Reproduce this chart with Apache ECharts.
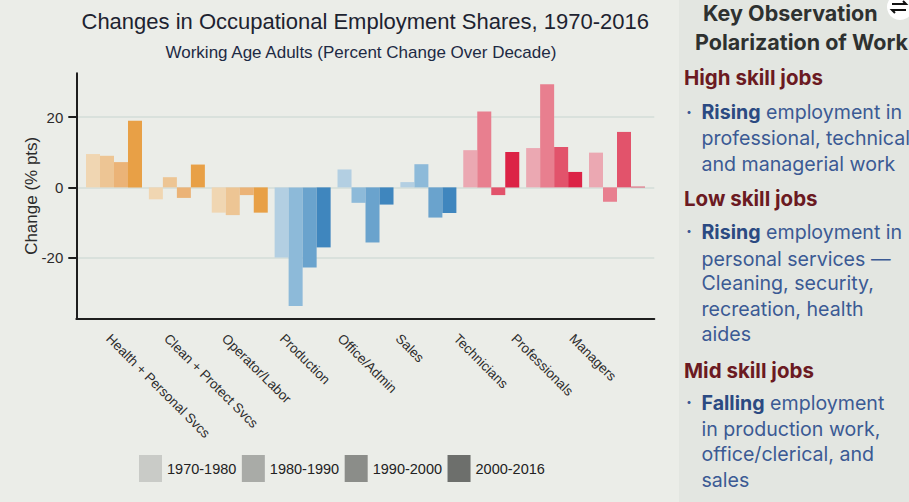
<!DOCTYPE html>
<html>
<head>
<meta charset="utf-8">
<script src="https://cdn.jsdelivr.net/npm/echarts@6/dist/echarts.min.js"></script>
<style>
html,body{margin:0;padding:0;background:#ebede8;}
#chart{width:909px;height:502px;}
</style>
</head>
<body>
<div id="chart"></div>
<script>
// ---- data ----
const categories = ['Health + Personal Svcs', 'Clean + Protect Svcs', 'Operator/Labor', 'Production', 'Office/Admin', 'Sales', 'Technicians', 'Professionals', 'Managers'];
const periods = ['1970-1980', '1980-1990', '1990-2000', '2000-2016'];
const change1970_1980 = [9.5, -3.4, -7.2, -20.0, 5.1, 1.5, 10.6, 11.2, 9.9];
const change1980_1990 = [9.0, 2.9, -7.9, -33.8, -4.4, 6.6, 21.6, 29.4, -4.1];
const change1990_2000 = [7.2, -3.0, -2.2, -22.8, -15.7, -8.6, -2.2, 11.5, 15.8];
const change2000_2016 = [19.0, 6.5, -7.2, -17.1, -4.9, -7.3, 10.1, 4.4, 0.2];
const yTicks = [-20, 0, 20];
const titleText = 'Changes in Occupational Employment Shares, 1970-2016';
const subtitleText = 'Working Age Adults (Percent Change Over Decade)';
const yAxisName = 'Change (% pts)';

// ---- styling ----
const seriesValues = [change1970_1980, change1980_1990, change1990_2000, change2000_2016];
const skillGroup = [0, 0, 0, 1, 1, 1, 2, 2, 2]; // 0 low (orange), 1 mid (blue), 2 high (red)
const groupColors = [
  ['#f0d6b2', '#b3cfe2', '#eba8b2'],
  ['#edc594', '#8dbad9', '#e87f8f'],
  ['#ebb377', '#6aa3cd', '#e2536b'],
  ['#e8a046', '#3f86be', '#dc2346']
];
const legendGrays = ['#c9cbc7', '#a9aba7', '#8b8d89', '#6d6f6c'];
const Y_MIN = -37.3, Y_MAX = 32.5;
const AX = '#1e1e1e';
const SANS = '"Liberation Sans", Arial, sans-serif';

const chart = echarts.init(document.getElementById('chart'), null, {renderer: 'svg'});

const series = seriesValues.map((vals, s) => ({
  name: periods[s],
  type: 'bar',
  xAxisIndex: 0,
  yAxisIndex: 0,
  barWidth: 14,
  barGap: '0%',
  itemStyle: {color: legendGrays[s]},
  emphasis: {disabled: true},
  data: vals.map((v, i) => ({value: v, itemStyle: {color: groupColors[s][skillGroup[i]]}}))
}));

const panelFont = 'Inter, "Noto Sans", sans-serif';
const navy = '#3b5a94';
const navyBold = '#2b4a82';
const maroon = '#6b1a22';
const BODY = '400 19.6px ' + panelFont;
function bodyLine(x, y, str) {
  return {type: 'text', x: x, y: y, style: {text: str, font: BODY, fill: navy, verticalAlign: 'middle'}};
}
function bulletLine(y, bold, rest) {
  return [
    {type: 'text', x: 686, y: y, style: {text: '·', font: '700 18px ' + panelFont, fill: navy, verticalAlign: 'middle'}},
    {type: 'text', x: 701.5, y: y, style: {
      text: '{b|' + bold + '}' + rest,
      font: BODY, fill: navy, verticalAlign: 'middle',
      rich: {b: {font: '700 19.6px ' + panelFont, fill: navyBold}}
    }}
  ];
}
function heading(y, str) {
  return {type: 'text', x: 684, y: y, style: {text: str, font: '700 20.5px ' + panelFont, fill: maroon, verticalAlign: 'middle'}};
}

const graphics = [
  {type: 'rect', shape: {x: 679, y: 0, width: 230, height: 502}, style: {fill: '#e3e6e1'}, z: -10},
  {type: 'text', x: 703, y: 12.5, style: {text: 'Key Observation', font: '700 21.5px ' + panelFont, fill: '#2e3130', verticalAlign: 'middle'}},
  {type: 'circle', shape: {cx: 900, cy: 7, r: 13}, style: {fill: '#ffffff'}},
  {type: 'polyline', shape: {points: [[892, 4], [906, 4], [903, 1]]}, style: {stroke: '#111', lineWidth: 2, fill: null}},
  {type: 'polyline', shape: {points: [[906, 10], [892, 10], [895, 13]]}, style: {stroke: '#111', lineWidth: 2, fill: null}},
  {type: 'text', x: 695, y: 42, style: {text: 'Polarization of Work', font: '700 21.5px ' + panelFont, fill: '#2e3130', verticalAlign: 'middle'}},
  heading(77.5, 'High skill jobs'),
  ...bulletLine(112, 'Rising', ' employment in'),
  bodyLine(701.5, 138, 'professional, technical'),
  bodyLine(701.5, 163.5, 'and managerial work'),
  heading(198, 'Low skill jobs'),
  ...bulletLine(231.5, 'Rising', ' employment in'),
  bodyLine(701.5, 259, 'personal services —'),
  bodyLine(701.5, 282.5, 'Cleaning, security,'),
  bodyLine(701.5, 308.5, 'recreation, health'),
  bodyLine(701.5, 334, 'aides'),
  heading(370, 'Mid skill jobs'),
  ...bulletLine(402.5, 'Falling', ' employment'),
  bodyLine(701.5, 428.5, 'in production work,'),
  bodyLine(701.5, 454, 'office/clerical, and'),
  bodyLine(701.5, 480, 'sales')
];

const option = {
  animation: false,
  backgroundColor: '#ebede8',
  textStyle: {fontFamily: SANS},
  title: [
    {text: titleText, left: 81.5, top: 10.5, padding: 0,
     textStyle: {fontSize: 22, fontWeight: 'normal', color: '#1d2330', fontFamily: SANS}},
    {text: subtitleText, left: 165.5, top: 43.5, padding: 0,
     textStyle: {fontSize: 17, fontWeight: 'normal', color: '#1d2a44', fontFamily: SANS}}
  ],
  legend: {
    data: periods,
    left: 139, top: 455, padding: 0,
    icon: 'rect', itemWidth: 23, itemHeight: 27, itemGap: 5.5,
    textStyle: {fontSize: 14.5, color: '#222', fontFamily: SANS},
    selectedMode: false
  },
  grid: [
    {left: 82.56, width: 565.9, top: 73.3, height: 245, outerBoundsMode: 'none', containLabel: false},
    {left: 76.3, width: 578, top: 73.3, height: 245, outerBoundsMode: 'none', containLabel: false},
    {left: 79.5, width: 521.1, top: 73.3, height: 245, outerBoundsMode: 'none', containLabel: false}
  ],
  xAxis: [
    {type: 'category', gridIndex: 0, data: categories,
     axisLine: {show: false}, axisTick: {show: false}, axisLabel: {show: false}, splitLine: {show: false}},
    {type: 'value', gridIndex: 1, min: 0, max: 1,
     axisLine: {show: true, onZero: false, lineStyle: {color: AX, width: 2}},
     axisTick: {show: false}, axisLabel: {show: false}, splitLine: {show: false}},
    {type: 'category', gridIndex: 2, data: categories,
     axisLine: {show: false}, axisTick: {show: false}, splitLine: {show: false},
     axisLabel: {show: true, interval: 0, rotate: -45, margin: 18, fontSize: 13.5, color: '#2b2b2b', fontFamily: SANS}}
  ],
  yAxis: [
    {type: 'value', gridIndex: 0, min: Y_MIN, max: Y_MAX, show: false, splitLine: {show: false}},
    {type: 'value', gridIndex: 1, min: Y_MIN, max: Y_MAX,
     name: yAxisName, nameLocation: 'middle', nameGap: 36, nameRotate: 90, nameMoveOverlap: false,
     nameTextStyle: {fontSize: 17, color: '#2b2b2b', fontFamily: SANS},
     axisLine: {show: true, onZero: false, lineStyle: {color: AX, width: 2}},
     axisTick: {show: true, length: 8, customValues: yTicks, lineStyle: {color: AX, width: 2}},
     axisLabel: {show: true, customValues: yTicks, margin: 13, fontSize: 15, color: '#2b2b2b', fontFamily: SANS},
     splitLine: {show: true, lineStyle: {color: '#d3ddd9', width: 1.5}}},
    {type: 'value', gridIndex: 2, min: 0, max: 1, show: false}
  ],
  series: series,
  graphic: graphics
};
chart.setOption(option);
</script>
</body>
</html>
